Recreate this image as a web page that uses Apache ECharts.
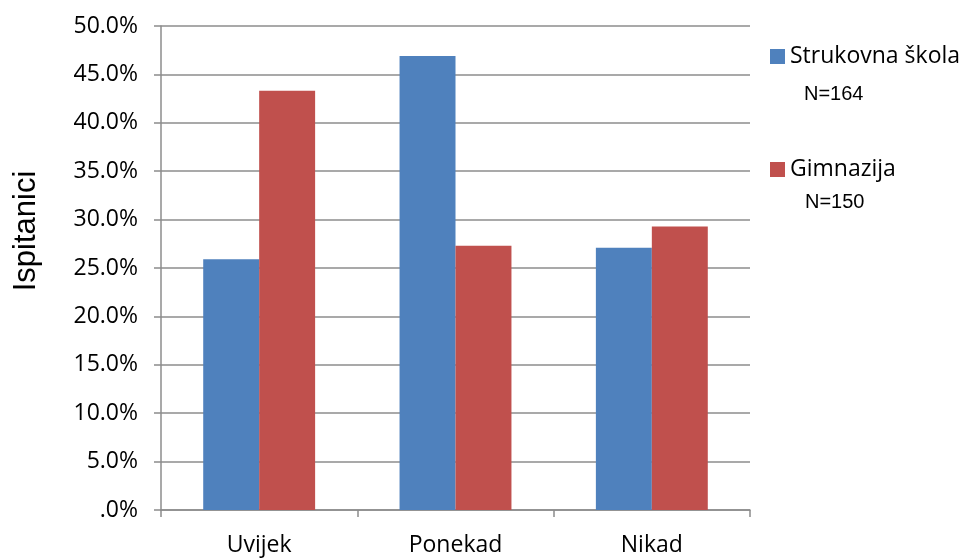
<!DOCTYPE html>
<html>
<head>
<meta charset="utf-8">
<script src="https://cdn.jsdelivr.net/npm/echarts@6/dist/echarts.min.js"></script>
<style>html,body{margin:0;padding:0;background:#fff}#c{width:966px;height:559px}</style>
</head>
<body>
<div id="c"></div>
<script>
const categories = ['Uvijek', 'Ponekad', 'Nikad'];
const seriesNames = ['Strukovna škola', 'Gimnazija'];
const sampleSizes = ['N=164', 'N=150'];
const strukovna = [25.9, 46.9, 27.1];
const gimnazija = [43.3, 27.3, 29.3];
const yTicks = [0, 5, 10, 15, 20, 25, 30, 35, 40, 45, 50];
const yTitle = 'Ispitanici';

const chart = echarts.init(document.getElementById('c'));
const grid = '#8c8c8c';
const FONT = '"Open Sans"';
chart.setOption({
  animation: false,
  grid: { left: 161, right: 216, top: 26, bottom: 49 },
  legend: {
    orient: 'vertical', left: 770, top: 45, padding: 0,
    itemWidth: 15, itemHeight: 15, itemGap: 90,
    icon: 'rect',
    textStyle: { fontFamily: FONT, fontSize: 23, color: '#000', padding: [0,0,0,0] },
    data: seriesNames
  },
  graphic: [
    { type: 'text', x: 804, y: 94, style: { text: sampleSizes[0], font: '20px "Liberation Sans"', fill: '#000', verticalAlign: 'middle' } },
    { type: 'text', x: 805, y: 202, style: { text: sampleSizes[1], font: '20px "Liberation Sans"', fill: '#000', verticalAlign: 'middle' } },
    { type: 'text', x: 26, y: 231, rotation: Math.PI / 2,
      style: { text: yTitle, font: '31px "Liberation Sans"', fill: '#000', align: 'center', verticalAlign: 'middle' } }
  ],
  xAxis: {
    type: 'category', data: categories,
    axisLine: { lineStyle: { color: grid, width: 1.5 } },
    axisTick: { show: true, length: 7, lineStyle: { color: grid, width: 1.5 } },
    axisLabel: { fontFamily: FONT, fontSize: 23, color: '#000', margin: 24 },
    splitLine: { show: false }
  },
  yAxis: {
    type: 'value', min: 0, max: 50, interval: 5,
    axisLine: { show: true, lineStyle: { color: grid, width: 1.5 } },
    axisTick: { show: true, length: 7, lineStyle: { color: grid, width: 1.5 } },
    axisLabel: {
      fontFamily: FONT, fontSize: 23, color: '#000', margin: 23,
      formatter: v => yTicks.includes(v) ? (v === 0 ? '.0%' : v.toFixed(1) + '%') : ''
    },
    splitLine: { lineStyle: { color: grid, width: 1.5 } }
  },
  series: [
    { name: seriesNames[0], type: 'bar', data: strukovna, barGap: '0%', barCategoryGap: '43%',
      itemStyle: { color: '#4f81bd' } },
    { name: seriesNames[1], type: 'bar', data: gimnazija,
      itemStyle: { color: '#c0504d' } }
  ]
});
</script>
</body>
</html>
